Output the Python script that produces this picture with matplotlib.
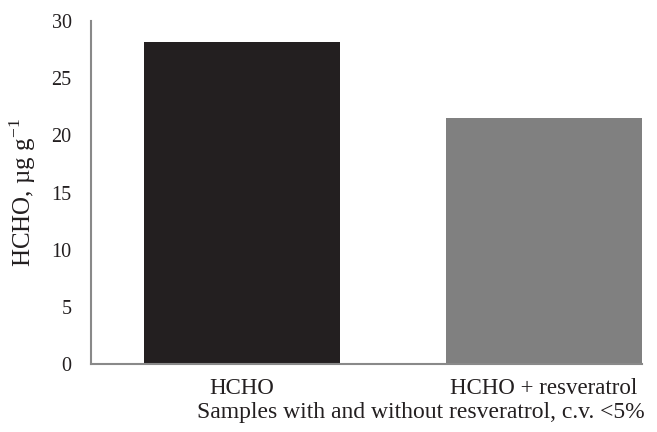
import matplotlib.pyplot as plt

categories = ["HCHO", "HCHO + resveratrol"]
values = [28.2, 21.5]
bar_colors = ["#231f20", "#808080"]
y_ticks = [0, 5, 10, 15, 20, 25, 30]

plt.rcParams["font.family"] = ["Liberation Serif", "DejaVu Serif"]

fig = plt.figure(figsize=(6.57, 4.32), dpi=100)
ax = fig.add_axes([91 / 657, 68 / 432, (642 - 91) / 657, (364 - 21) / 432])

x = range(len(categories))
ax.bar(x, values, width=0.648, color=bar_colors)

ax.set_xlim(-0.499, 1.324)
ax.set_ylim(0, 30)
ax.set_yticks(y_ticks)
ax.set_xticks(list(x))
ax.set_xticklabels(categories, fontsize=16.5, color="#231f20")
ax.tick_params(axis="y", labelsize=14.5, length=0, pad=14, labelcolor="#231f20")
ax.tick_params(axis="x", length=0, pad=10)

for side in ("top", "right"):
    ax.spines[side].set_visible(False)
for side in ("left", "bottom"):
    ax.spines[side].set_color("#898989")
    ax.spines[side].set_linewidth(1.5)

ax.set_ylabel("HCHO, µg g$^{\\mathregular{-1}}$", fontsize=18, color="#231f20", labelpad=10)
ax.set_xlabel("Samples with and without resveratrol, c.v. <5%", fontsize=17,
              color="#231f20")
ax.xaxis.set_label_coords((421 - 91) / (642 - 91), -0.11)

fig.savefig("out.png", dpi=100)
